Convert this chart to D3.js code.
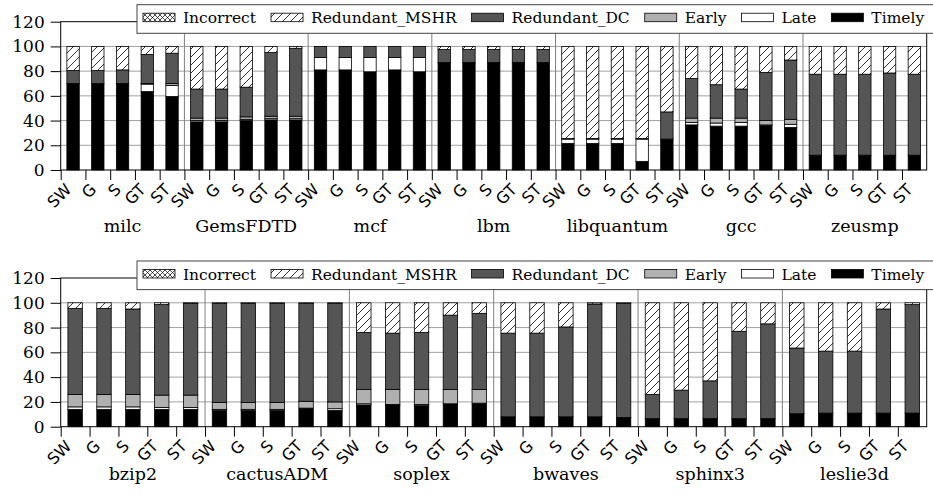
<!DOCTYPE html>
<html>
<head>
<meta charset="utf-8">
<script src="https://cdn.jsdelivr.net/npm/d3@7"></script>
<style>
  body { margin: 0; background: #fff; }
  svg text { fill: #000; }
</style>
</head>
<body>
<svg id="chart"></svg>
<script>
// categories
const configs = ["SW", "G", "S", "GT", "ST"];
const benchTop = ["milc", "GemsFDTD", "mcf", "lbm", "libquantum", "gcc", "zeusmp"];
const benchBottom = ["bzip2", "cactusADM", "soplex", "bwaves", "sphinx3", "leslie3d"];
const seriesNames = ["Timely", "Late", "Early", "Redundant_DC", "Redundant_MSHR", "Incorrect"];
const yTicks = [0, 20, 40, 60, 80, 100, 120];

// top panel values (5 configs per benchmark)
const timelyTop = [70, 70, 70, 63.5, 59.5,  39, 39, 40, 40.5, 40.5,  81, 81, 79.5, 81, 79.5,
  87, 87, 87, 87, 87,  21.5, 21.5, 21.5, 7, 25,  36.5, 35.5, 35.5, 36, 34.5,  12, 12, 12, 12, 12];
const lateTop = [0, 0, 0, 6, 9,  1, 1, 1, 1, 1,  10, 10, 11.5, 10, 11.5,
  0, 0, 0, 0, 0,  3.5, 3.5, 3.5, 18, 0,  2, 2.5, 3, 0.5, 2.5,  0, 0, 0, 0, 0];
const earlyTop = [0, 0, 0, 0.5, 1.5,  2, 2, 2, 2, 2,  0, 0, 0, 0, 0,
  0, 0, 0, 0, 0,  0, 0, 0, 0, 0,  3.5, 4, 3.5, 3.5, 4,  0, 0, 0, 0, 0];
const dcTop = [10.5, 10.5, 11, 23.5, 24.5,  23.5, 23.5, 24, 51.5, 55,  9, 9, 9, 9, 9,
  10.5, 10.5, 10.5, 10.5, 10.5,  0.5, 0.5, 0.5, 0.5, 22,  32, 27, 23.5, 39, 48,  65.5, 65.5, 65.5, 66.5, 65.5];
const mshrTop = [19.5, 19.5, 19, 6.5, 5.5,  34.5, 34.5, 33, 5, 1.5,  0, 0, 0, 0, 0,
  2.5, 2.5, 2.5, 2.5, 2.5,  74.5, 74.5, 74.5, 74.5, 53,  26, 31, 34.5, 21, 11,  22.5, 22.5, 22.5, 21.5, 22.5];
const incorrectTop = new Array(35).fill(0);

// bottom panel values
const timelyBottom = [14, 14, 14, 14, 14,  13, 13, 13, 15, 13,  17.5, 17.5, 17, 18.5, 19,
  8, 8, 8, 8, 7.5,  6.5, 6.5, 6.5, 6.5, 6.5,  10.5, 11, 11, 11, 11];
const lateBottom = [2, 2, 2, 1.5, 1.5,  1, 1, 1, 0, 1.5,  1, 0.5, 1, 0, 0,
  0, 0, 0, 0, 0,  0, 0, 0, 0, 0,  0, 0, 0, 0, 0];
const earlyBottom = [10, 10, 10, 10, 10,  5.5, 5.5, 5.5, 5.5, 5.5,  11.5, 12, 12, 11.5, 11,
  0, 0, 0, 0, 0,  0, 0, 0, 0, 0,  0, 0, 0, 0, 0];
const dcBottom = [69.5, 69.5, 69, 73, 74,  80, 80, 80, 79, 79.5,  46, 45.5, 46, 60, 61.5,
  67.5, 67.5, 72.5, 91, 92,  19.5, 23, 30.5, 70.5, 76.5,  53, 50, 50, 84, 87.5];
const mshrBottom = [4.5, 4.5, 5, 1.5, 0.5,  0.5, 0.5, 0.5, 0.5, 0.5,  24, 24.5, 24, 10, 8.5,
  24.5, 24.5, 19.5, 1, 0.5,  74, 70.5, 63, 23, 17,  36.5, 39, 39, 5, 1.5];
const incorrectBottom = new Array(30).fill(0);

const W = 933, H = 496;
const svg = d3.select("#chart").attr("width", W).attr("height", H);

// hatch patterns
const defs = svg.append("defs");
const diag = defs.append("pattern").attr("id", "hatchDiag")
  .attr("patternUnits", "userSpaceOnUse").attr("width", 8).attr("height", 8);
diag.append("rect").attr("width", 8).attr("height", 8).attr("fill", "#fff");
diag.append("path").attr("d", "M-1,1 l2,-2 M0,8 l8,-8 M7,9 l2,-2")
  .attr("stroke", "#000").attr("stroke-width", 0.8);
const cross = defs.append("pattern").attr("id", "hatchCross")
  .attr("patternUnits", "userSpaceOnUse").attr("width", 5).attr("height", 5);
cross.append("rect").attr("width", 5).attr("height", 5).attr("fill", "#fff");
cross.append("path").attr("d", "M0,5 l5,-5 M0,0 l5,5")
  .attr("stroke", "#000").attr("stroke-width", 0.7);

const fills = {
  Timely: "#000", Late: "#fff", Early: "#b0b0b0",
  Redundant_DC: "#555", Redundant_MSHR: "url(#hatchDiag)", Incorrect: "url(#hatchCross)"
};

const margin = {left: 60.7, right: 6.3};

function drawPanel(top, bottom, benches, cols, labelTop, groupY) {
  const n = benches.length * configs.length;
  const rows = d3.range(n).map(i => {
    const r = {idx: i};
    seriesNames.forEach((s, k) => r[s] = cols[k][i]);
    return r;
  });

  const x = d3.scaleBand().domain(d3.range(n))
    .range([margin.left, W - margin.right]).paddingInner(0.5).paddingOuter(0.25);
  const xEdge = d3.scaleLinear().domain([0, n]).range([margin.left, W - margin.right]);
  const y = d3.scaleLinear().domain([0, 120]).range([bottom, top]);

  const g = svg.append("g");

  // grid
  g.append("g").selectAll("line").data(yTicks.filter(t => t > 0 && t < 120)).join("line")
    .attr("x1", margin.left).attr("x2", W - margin.right)
    .attr("y1", d => y(d)).attr("y2", d => y(d))
    .attr("stroke", "#a0a0a0").attr("stroke-width", 1);

  // group separators
  g.append("g").selectAll("line").data(d3.range(1, benches.length)).join("line")
    .attr("x1", d => xEdge(d * 5)).attr("x2", d => xEdge(d * 5))
    .attr("y1", top).attr("y2", bottom)
    .attr("stroke", "#808080").attr("stroke-width", 1);

  // stacked bars
  const stack = d3.stack().keys(seriesNames)(rows);
  g.append("g").selectAll("g").data(stack).join("g")
    .attr("fill", d => fills[d.key])
    .selectAll("rect").data(d => d.filter(v => v[1] - v[0] > 0)).join("rect")
    .attr("x", d => x(d.data.idx))
    .attr("width", x.bandwidth())
    .attr("y", d => y(d[1]))
    .attr("height", d => y(d[0]) - y(d[1]))
    .attr("stroke", "#000").attr("stroke-width", 0.8);

  // frame
  g.append("rect").attr("x", margin.left).attr("y", top)
    .attr("width", W - margin.right - margin.left).attr("height", bottom - top)
    .attr("fill", "none").attr("stroke", "#000").attr("stroke-width", 1);

  // y axis
  const ya = g.append("g").attr("transform", `translate(${margin.left},0)`)
    .call(d3.axisLeft(y).tickValues(yTicks).tickSize(10).tickPadding(6));
  ya.select(".domain").remove();
  ya.selectAll("text").style("font-family", "DejaVu Serif").style("font-size", "17px");

  // x axis (ticks at slot edges), labels rotated about their top-right corner
  const xa = g.append("g").attr("transform", `translate(0,${bottom})`)
    .call(d3.axisBottom(xEdge).tickValues(d3.range(n)).tickSize(10).tickFormat(""));
  xa.select(".domain").remove();
  g.append("g").selectAll("text").data(d3.range(n)).join("text")
    .attr("transform", i => `translate(${xEdge(i) + 3.3},${labelTop}) rotate(-45)`)
    .attr("text-anchor", "end").attr("dominant-baseline", "hanging")
    .style("font-family", "DejaVu Sans").style("font-size", "16px")
    .text(i => configs[i % 5]);

  // group names
  g.append("g").selectAll("text").data(benches).join("text")
    .attr("x", (d, i) => xEdge(i * 5 + 2.5)).attr("y", groupY)
    .attr("text-anchor", "middle")
    .style("font-family", "DejaVu Serif").style("font-size", "17.5px")
    .text(d => d);

  // legend
  const legTop = top - 17, legH = 28.6;
  const lg = g.append("g");
  lg.append("rect").attr("x", 137).attr("y", legTop).attr("width", 820).attr("height", legH)
    .attr("fill", "#fff").attr("stroke", "#444").attr("stroke-width", 1);
  const legOrder = seriesNames.slice().reverse();
  let cx = 143;
  legOrder.forEach(s => {
    lg.append("rect").attr("x", cx).attr("y", legTop + 8.5).attr("width", 32).attr("height", 8.5)
      .attr("fill", fills[s]).attr("stroke", "#000").attr("stroke-width", 0.8);
    const t = lg.append("text").attr("x", cx + 40).attr("y", legTop + 13.5)
      .attr("dominant-baseline", "central")
      .style("font-family", "DejaVu Serif").style("font-size", "15.5px")
      .text(s);
    cx += 40 + t.node().getComputedTextLength() + 15;
  });
}

drawPanel(21.7, 170, benchTop,
  [timelyTop, lateTop, earlyTop, dcTop, mshrTop, incorrectTop], 182, 232);
drawPanel(278, 426.7, benchBottom,
  [timelyBottom, lateBottom, earlyBottom, dcBottom, mshrBottom, incorrectBottom], 438.7, 480);
</script>
</body>
</html>
